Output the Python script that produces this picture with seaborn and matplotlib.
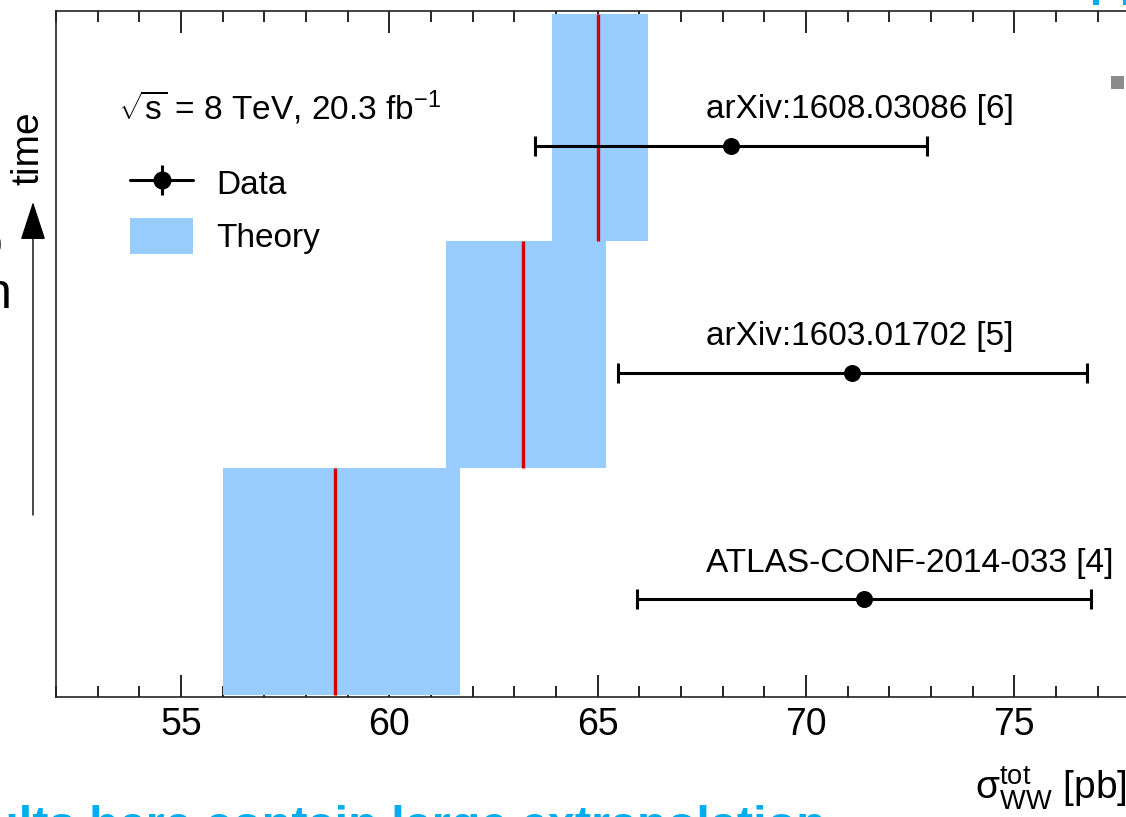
import numpy as np
import pandas as pd
import matplotlib
matplotlib.use("Agg")
import matplotlib.pyplot as plt
import seaborn as sns
from matplotlib.lines import Line2D
from matplotlib.patches import Patch, Rectangle
from matplotlib.ticker import MultipleLocator

# ---------------- data ----------------
measurements = ["ATLAS-CONF-2014-033 [4]", "arXiv:1603.01702 [5]", "arXiv:1608.03086 [6]"]
data_xsec = [71.4, 71.1, 68.2]
data_err_dn = [5.45, 5.6, 4.7]
data_err_up = [5.45, 5.65, 4.7]
theory_xsec = [58.7, 63.2, 65.0]
theory_err_dn = [2.7, 1.85, 1.1]
theory_err_up = [3.0, 2.0, 1.2]
legend_labels = ["Data", "Theory"]

# ---------------- style ----------------
sns.set_theme(style="ticks")
plt.rcParams["font.family"] = ["Liberation Sans", "DejaVu Sans"]
plt.rcParams["mathtext.fontset"] = "custom"
plt.rcParams["mathtext.rm"] = "Liberation Sans"
plt.rcParams["mathtext.it"] = "Liberation Sans:italic"
plt.rcParams["mathtext.bf"] = "Liberation Sans:bold"
plt.rcParams["text.color"] = "black"
plt.rcParams["axes.labelcolor"] = "black"
plt.rcParams["xtick.color"] = "black"
plt.rcParams["xtick.labelcolor"] = "black"

BAND = "#99ccff"
RED = "#d40000"
W, H = 1126, 817
fig = plt.figure(figsize=(W / 100, H / 100), dpi=100)
fig.patch.set_facecolor("white")

x0, x1 = 52, 80
ppu = 41.66
axw = (x1 - x0) * ppu
ax = fig.add_axes([56 / W, 120 / H, axw / W, 686 / H])
ax.set_facecolor("white")

rows = np.arange(len(measurements))
df = pd.DataFrame({
    "label": measurements,
    "row": rows,
    "data": data_xsec,
    "dn": data_err_dn,
    "up": data_err_up,
    "th": theory_xsec,
    "th_lo": np.array(theory_xsec) - np.array(theory_err_dn),
    "th_hi": np.array(theory_xsec) + np.array(theory_err_up),
})
df["ypt"] = df["row"] + 0.42

# theory bands
ax.barh(df["row"], df["th_hi"] - df["th_lo"], left=df["th_lo"], height=1.0,
        align="edge", color=BAND, lw=0, zorder=1)
ax.vlines(df["th"], df["row"], df["row"] + 1, color=RED, lw=2.4, zorder=2)

# data points
ax.errorbar(df["data"], df["ypt"], xerr=[df["dn"], df["up"]], fmt="none",
            ecolor="black", elinewidth=2.2, capsize=7, capthick=2.2, zorder=3)
sns.scatterplot(data=df, x="data", y="ypt", ax=ax, color="black", s=150,
                linewidth=0, zorder=4, legend=False)

for _, r in df.iterrows():
    ax.text(67.6, r["row"] + 0.58, r["label"], ha="left", va="center",
            fontsize=24, color="black", zorder=5)

ax.set_xlim(x0, x1)
ax.set_ylim(-0.01, 3.015)
ax.xaxis.set_major_locator(MultipleLocator(5))
ax.xaxis.set_minor_locator(MultipleLocator(1))
ax.tick_params(axis="x", which="both", direction="in", top=True, bottom=True,
               width=1.2, color="black", labelsize=27, pad=7, labelcolor="black")
ax.tick_params(axis="x", which="major", length=16)
ax.tick_params(axis="x", which="minor", length=8)
ax.set_yticks([])
ax.set_ylabel("")
for s in ax.spines.values():
    s.set_linewidth(1.2)
    s.set_color("#222222")

ax.set_xlabel(r"$\mathrm{\sigma}^{\mathrm{tot}}_{\mathrm{WW}}$ [pb]", fontsize=28,
              ha="left", va="baseline", color="black")
ax.xaxis.set_label_coords((975 - 56) / axw, (697 - 800) / 686)

# legend
h_data = (Line2D([], [], color="black", lw=2.2, marker="o", ms=12),
          Line2D([], [], color="black", marker="|", ms=22, mew=2.2, ls="none"))
h_theory = Patch(facecolor=BAND, edgecolor="none")
ax.legend([h_data, h_theory], legend_labels, loc="upper left",
          bbox_to_anchor=((130 - 56) / axw, (697 - 165) / 686),
          frameon=False, fontsize=24, handlelength=1.9, handletextpad=0.7,
          labelspacing=0.5, handleheight=1.3, borderpad=0, borderaxespad=0,
          labelcolor="black")

ax.text((118 - 56) / axw, (697 - 108) / 686,
        r"$\sqrt{\mathrm{s}}$ = 8 TeV, 20.3 fb$^{-1}$",
        transform=ax.transAxes, ha="left", va="center", fontsize=24, color="black")

# ---------------- slide context around the plot ----------------
fig.text(28 / W, 1 - 148 / H, "time", rotation=90, ha="center", va="center",
         fontsize=28)
ax.annotate("", xy=(33, H - 202), xytext=(33, H - 515),
            xycoords="figure pixels", textcoords="figure pixels",
            arrowprops=dict(arrowstyle="-|>,head_length=2.45,head_width=0.8",
                            mutation_scale=10, lw=1, color="black",
                            shrinkA=0, shrinkB=0))
fig.text(12 / W, 1 - 295 / H, "n", ha="right", va="center", fontsize=36)
fig.text(3 / W, 1 - 245 / H, "o", ha="right", va="center", fontsize=36)

fig.text(826 / W, -23 / H, "Results here contain large extrapolation",
         ha="right", va="baseline", fontsize=35, fontweight="bold",
         color="#00aeef")

fig.add_artist(Rectangle((1111 / W, 1 - 89 / H), 13 / W, 13 / H,
                         transform=fig.transFigure, color="#8c8c8c", lw=0))
fig.add_artist(Rectangle((1093 / W, 1 - 5 / H), 6 / W, 5 / H,
                         transform=fig.transFigure, color="#00aeef", lw=0))
fig.add_artist(Rectangle((1123 / W, 1 - 5 / H), 3 / W, 5 / H,
                         transform=fig.transFigure, color="#00aeef", lw=0))

fig.savefig("out.png", dpi=100)
